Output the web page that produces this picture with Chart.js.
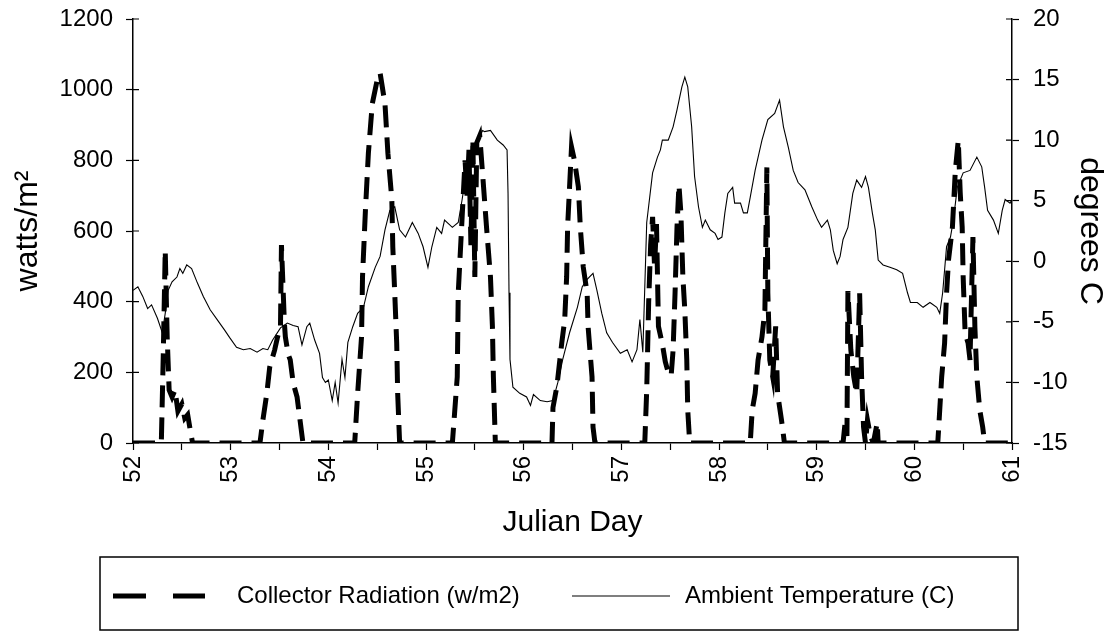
<!DOCTYPE html>
<html>
<head>
<meta charset="utf-8">
<script src="https://cdn.jsdelivr.net/npm/chart.js@4.4.1/dist/chart.umd.min.js"></script>
<style>
  html, body { margin: 0; padding: 0; background: #fff; }
  #wrap { width: 1118px; height: 636px; }
</style>
</head>
<body>
<div id="wrap"><canvas id="chart" width="1118" height="636"></canvas></div>
<script>
// ── Data ───────────────────────────────────────────────────
const dayLabels = [52, 53, 54, 55, 56, 57, 58, 59, 60, 61];

const tempDays = [
  52.00, 52.05, 52.10, 52.15, 52.19, 52.25, 52.30, 52.33, 52.36, 52.40,
  52.45, 52.48, 52.51, 52.55, 52.60, 52.66, 52.72, 52.79, 52.86, 52.94,
  52.99, 53.06, 53.13, 53.20, 53.27, 53.33, 53.38, 53.43, 53.51, 53.58,
  53.64, 53.69, 53.73, 53.78, 53.81, 53.86, 53.91, 53.94, 53.97, 54.00,
  54.04, 54.07, 54.10, 54.14, 54.17, 54.20, 54.25, 54.30, 54.36, 54.41,
  54.48, 54.53, 54.58, 54.63, 54.68, 54.73, 54.79, 54.86, 54.92, 54.97,
  55.02, 55.06, 55.11, 55.16, 55.19, 55.27, 55.33, 55.37, 55.40, 55.47,
  55.53, 55.58, 55.60, 55.66, 55.73, 55.79, 55.83, 55.84, 55.85, 55.86,
  55.89, 55.96, 56.03, 56.07, 56.10, 56.17, 56.24, 56.30, 56.35, 56.40,
  56.47, 56.55, 56.60, 56.65, 56.71, 56.75, 56.80, 56.85, 56.91, 56.99,
  57.06, 57.11, 57.16, 57.19, 57.22, 57.26, 57.32, 57.37, 57.40, 57.42,
  57.48, 57.53, 57.57, 57.62, 57.65, 57.68, 57.72, 57.75, 57.79, 57.83,
  57.86, 57.91, 57.96, 57.99, 58.03, 58.06, 58.09, 58.14, 58.16, 58.22,
  58.25, 58.29, 58.32, 58.37, 58.44, 58.50, 58.57, 58.62, 58.66, 58.71,
  58.76, 58.81, 58.88, 58.95, 59.01, 59.05, 59.11, 59.14, 59.17, 59.21,
  59.24, 59.27, 59.32, 59.37, 59.41, 59.46, 59.50, 59.53, 59.57, 59.60,
  59.63, 59.68, 59.75, 59.82, 59.88, 59.93, 59.96, 60.03, 60.09, 60.16,
  60.23, 60.26, 60.29, 60.33, 60.37, 60.40, 60.44, 60.50, 60.57, 60.64,
  60.69, 60.72, 60.75, 60.81, 60.86, 60.90, 60.93, 60.98, 61.00
];
const tempValues = [
  -2.4, -2.1, -2.9, -3.9, -3.6, -4.7, -5.9, -4.3, -2.4, -1.7,
  -1.3, -0.6, -1.0, -0.3, -0.6, -1.8, -2.9, -4.0, -4.8, -5.7,
  -6.3, -7.1, -7.3, -7.2, -7.5, -7.2, -7.3, -6.5, -5.5, -5.1,
  -5.3, -5.4, -6.9, -5.4, -5.1, -6.5, -7.6, -9.6, -10.0, -9.8,
  -11.5, -10.0, -11.7, -8.1, -9.6, -6.7, -5.4, -4.3, -3.8, -2.1,
  -0.5, 0.4, 2.6, 4.2, 4.5, 2.6, 2.0, 3.2, 2.3, 1.2,
  -0.5, 1.2, 2.8, 2.3, 3.4, 2.8, 3.2, 5.1, 6.7, 8.9,
  10.0, 10.8, 10.7, 10.8, 10.0, 9.6, 9.2, 5.6, -2.6, -8.1,
  -10.4, -10.9, -11.2, -11.9, -11.0, -11.5, -11.6, -11.5, -10.0, -8.1,
  -5.9, -3.8, -2.1, -1.5, -1.0, -2.4, -4.3, -5.9, -6.7, -7.6,
  -7.3, -8.3, -7.3, -4.8, -7.5, 3.2, 7.3, 8.6, 9.2, 10.0,
  10.0, 11.1, 12.5, 14.4, 15.2, 14.4, 11.1, 7.0, 4.5, 2.8,
  3.4, 2.6, 2.3, 1.8, 2.0, 4.0, 5.6, 6.1, 4.8, 4.8,
  4.0, 4.0, 5.3, 7.5, 10.0, 11.7, 12.2, 13.3, 11.1, 9.4,
  7.5, 6.5, 5.9, 4.5, 3.4, 2.8, 3.4, 2.6, 0.9, -0.2,
  0.4, 1.8, 2.8, 5.6, 6.7, 6.1, 7.0, 6.1, 4.0, 2.6,
  0.1, -0.3, -0.5, -0.7, -1.0, -2.6, -3.4, -3.4, -3.8, -3.4,
  -3.8, -4.3, -2.6, 1.2, 2.0, 3.4, 6.1, 7.3, 7.5, 8.6,
  7.8, 6.1, 4.2, 3.4, 2.3, 4.2, 5.1, 4.8, 5.1
];

const radDays = [
  52.00, 52.29, 52.31, 52.33, 52.35, 52.37, 52.40, 52.43, 52.46, 52.50,
  52.53, 52.56, 52.59, 52.61,
  53.30, 53.33, 53.37, 53.40, 53.45, 53.48, 53.51, 53.52, 53.55, 53.56,
  53.59, 53.61, 53.64, 53.68, 53.71, 53.74,
  54.27, 54.30, 54.34, 54.35, 54.38, 54.41, 54.45, 54.50, 54.53, 54.58,
  54.61, 54.65, 54.66, 54.68, 54.70, 54.71, 54.73,
  55.27, 55.32, 55.33, 55.37, 55.40, 55.42, 55.44, 55.46, 55.48, 55.50,
  55.52, 55.55, 55.58, 55.62, 55.66, 55.68, 55.69, 55.71,
  56.29, 56.30, 56.34, 56.39, 56.42, 56.44, 56.45, 56.47, 56.49, 56.52,
  56.56, 56.58, 56.61, 56.65, 56.66, 56.70, 56.71, 56.73,
  57.24, 57.26, 57.28, 57.30, 57.32, 57.34, 57.36, 57.38, 57.42, 57.45,
  57.48, 57.51, 57.53, 57.55, 57.57, 57.59, 57.61, 57.63, 57.65, 57.67,
  57.68, 57.70,
  58.32, 58.34, 58.37, 58.40, 58.44, 58.47, 58.49, 58.50, 58.52, 58.55,
  58.58, 58.60, 58.64, 58.67,
  59.27, 59.29, 59.31, 59.32, 59.35, 59.38, 59.41, 59.44, 59.46, 59.48,
  59.50, 59.52, 59.55, 59.58, 59.62, 59.63,
  60.24, 60.26, 60.28, 60.31, 60.33, 60.35, 60.39, 60.42, 60.45, 60.47,
  60.49, 60.50, 60.52, 60.55, 60.57, 60.60, 60.62, 60.64, 60.67, 60.70,
  60.72, 61.00
];
const radValues = [
  0, 0, 250, 545, 300, 150, 130, 150, 90, 110,
  70, 80, 30, 0,
  0, 65, 140, 215, 263, 300, 330, 560, 340, 300,
  250, 235, 170, 130, 65, 0,
  0, 140, 300, 470, 660, 820, 960, 1027, 1047, 960,
  820, 690, 555, 424, 283, 140, 0,
  0, 187, 424, 640, 800, 700, 830, 560, 860, 470,
  850, 870, 760, 610, 470, 330, 187, 0,
  0, 100, 160, 283, 348, 470, 611, 725, 838, 800,
  725, 611, 498, 424, 328, 187, 45, 0,
  0, 150, 400, 560, 640, 500, 620, 330, 280, 230,
  200, 190, 263, 424, 611, 730, 650, 470, 376, 235,
  93, 0,
  0, 93, 140, 235, 300, 376, 780, 424, 235, 187,
  330, 140, 65, 0,
  0, 55, 20, 430, 263, 187, 140, 424, 187, 45,
  0, 65, 20, 0, 57, 0,
  0, 93, 187, 283, 424, 518, 611, 772, 857, 707,
  611, 470, 311, 283, 235, 583, 328, 187, 93, 45,
  0, 0
];

// ── Helpers ────────────────────────────────────────────────
const toPoints = (xs, ys) => xs.map((x, i) => ({ x, y: ys[i] }));
const FONT = "'Liberation Sans', Arial, Helvetica, sans-serif";

Chart.defaults.font.family = FONT;
Chart.defaults.color = '#000';

// value axes: keep the plot exactly where the figure has it
const fixWidth = w => s => { s.width = w; s.paddingTop = 0; s.paddingBottom = 0; };

// tick marks that also poke into the plot on both value axes
const innerTicks = {
  id: 'innerTicks',
  afterDatasetsDraw(chart) {
    const { ctx, scales: { y, y1 } } = chart;
    ctx.save();
    ctx.strokeStyle = '#000';
    ctx.lineWidth = 1.2;
    ctx.beginPath();
    y.ticks.forEach((t, i) => {
      const py = y.getPixelForTick(i);
      ctx.moveTo(y.right, py); ctx.lineTo(y.right + 6, py);
    });
    y1.ticks.forEach((t, i) => {
      const py = y1.getPixelForTick(i);
      ctx.moveTo(y1.left - 6, py); ctx.lineTo(y1.left, py);
    });
    ctx.stroke();
    ctx.restore();
  }
};

// boxed legend under the x axis, laid out like the original
const legendSamples = [
  { sampleX: 13, sampleW: 92, textX: 137, dash: [33, 27], width: 5 },
  { sampleX: 472, sampleW: 98, textX: 585, dash: [], width: 1.2 },
];
const boxedLegend = {
  id: 'boxedLegend',
  afterDraw(chart) {
    const { ctx, chartArea } = chart;
    const left = chartArea.left - 33;
    const top = chartArea.bottom + 114;
    const w = chartArea.right - chartArea.left + 39;
    const h = 73;
    const cy = top + 39;
    ctx.save();
    ctx.strokeStyle = '#000';
    ctx.lineWidth = 1.5;
    ctx.strokeRect(left, top, w, h);
    ctx.fillStyle = '#000';
    ctx.font = '24px ' + FONT;
    ctx.textBaseline = 'middle';
    chart.data.datasets.forEach((ds, i) => {
      const s = legendSamples[i];
      ctx.beginPath();
      ctx.lineWidth = s.width;
      ctx.setLineDash(s.dash);
      ctx.moveTo(left + s.sampleX, cy);
      ctx.lineTo(left + s.sampleX + s.sampleW, cy);
      ctx.stroke();
      ctx.setLineDash([]);
      ctx.fillText(ds.label, left + s.textX, cy);
    });
    ctx.restore();
  }
};

new Chart(document.getElementById('chart'), {
  type: 'line',
  data: {
    datasets: [
      {
        label: 'Collector Radiation (w/m2)',
        data: toPoints(radDays, radValues),
        yAxisID: 'y',
        borderColor: '#000',
        borderWidth: 5,
        borderDash: [22, 10],
        borderCapStyle: 'butt',
        pointRadius: 0,
        tension: 0,
        fill: false,
      },
      {
        label: 'Ambient Temperature (C)',
        data: toPoints(tempDays, tempValues),
        yAxisID: 'y1',
        borderColor: '#000',
        borderWidth: 1.1,
        pointRadius: 0,
        tension: 0,
        fill: false,
      },
    ],
  },
  options: {
    responsive: false,
    animation: false,
    layout: { padding: { top: 19, bottom: 79, left: 0, right: 0 } },
    plugins: {
      tooltip: { enabled: false },
      legend: { display: false },
    },
    scales: {
      x: {
        type: 'linear',
        min: 52,
        max: 61,
        afterFit: s => { s.height = 114; },
        border: { color: '#000', width: 1.5 },
        grid: { drawOnChartArea: false, color: '#000', tickLength: 7, tickWidth: 1.2 },
        ticks: {
          stepSize: 0.5,
          autoSkip: false,
          minRotation: 90,
          maxRotation: 90,
          padding: 6,
          font: { size: 24 },
          callback: v => dayLabels.includes(v) ? String(v) : '',
        },
        title: {
          display: true,
          text: 'Julian Day',
          font: { size: 30 },
          padding: { top: 0, bottom: 16 },
        },
      },
      y: {
        position: 'left',
        min: 0,
        max: 1200,
        afterFit: fixWidth(133),
        border: { color: '#000', width: 1.5 },
        grid: { drawOnChartArea: false, color: '#000', tickLength: 7, tickWidth: 1.2 },
        ticks: { stepSize: 200, padding: 13, font: { size: 24 }, callback: v => String(v) },
        title: {
          display: true,
          text: 'watts/m²',
          font: { size: 32 },
          padding: { top: 9, bottom: 0 },
        },
      },
      y1: {
        position: 'right',
        min: -15,
        max: 20,
        afterFit: fixWidth(106),
        border: { color: '#000', width: 1.5 },
        grid: { drawOnChartArea: false, color: '#000', tickLength: 7, tickWidth: 1.2 },
        ticks: { stepSize: 5, padding: 14, font: { size: 24 }, callback: v => String(v) },
        title: {
          display: true,
          text: 'degrees C',
          font: { size: 32 },
          padding: { top: 9, bottom: 0 },
        },
      },
    },
  },
  plugins: [innerTicks, boxedLegend],
});
</script>
</body>
</html>
